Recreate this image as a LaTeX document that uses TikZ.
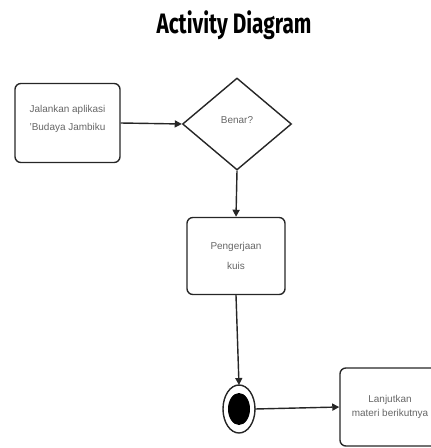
\documentclass[tikz,border=0pt]{standalone}
\usepackage{fontspec}
\setmainfont{Liberation Sans}
\newfontfamily\judulfont[FakeStretch=0.74]{Fira Sans Bold}
\usetikzlibrary{shapes.geometric,arrows.meta}

\newcommand{\naik}[2]{\raisebox{#1}[\height][\depth]{\begin{tabular}{@{}c@{}}#2\end{tabular}}}

\tikzset{
  aktivitas/.style = {draw=black!85, line width=1.2pt, rounded corners=5pt,
    align=center, text=black!60, font=\fontsize{8.5}{14}\selectfont,
    minimum width=#1, minimum height=2.37cm, inner sep=0pt},
  keputusan/.style = {draw=black!85, line width=1.2pt, diamond,
    minimum width=3.27cm, minimum height=2.76cm, inner sep=0pt,
    text=black!60, font=\fontsize{8.5}{12}\selectfont},
  alur/.style = {draw=black!85, line width=1.2pt, -{Triangle[length=6pt,width=6pt]}}
}

\begin{document}
\begin{tikzpicture}[x=0.03cm, y=-0.03cm]
\useasboundingbox (0,0) rectangle (431,448);
\clip (0,0) rectangle (431,448);

% judul
\node (judul) at (234,25) {\judulfont\fontsize{24}{26}\selectfont Activity Diagram};

% aktivitas
\node [aktivitas=3.15cm] (jalankan) at (67.5,123)
  {\naik{4pt}{Jalankan aplikasi\\[2pt]'Budaya Jambiku}};
\node [keputusan] (benar) at (237,124) {\naik{3pt}{Benar?}};
\node [aktivitas=2.94cm, minimum height=2.31cm] (kuis) at (236,256)
  {\naik{0pt}{Pengerjaan\\[3pt]kuis}};
\node [aktivitas=3.0cm, minimum height=2.34cm] (lanjut) at (390,407)
  {Lanjutkan\\[-2pt]materi berikutnya};

% akhir
\draw [black!85, line width=1.2pt] (239,409) ellipse [x radius=16, y radius=24];
\fill [black] (239,409) ellipse [x radius=11, y radius=16];
\coordinate (akhir-atas) at (239,385);
\coordinate (akhir-kanan) at (255,409);

% alur
\draw [alur] (jalankan.east) -- (benar.west);
\draw [alur] (benar.south) -- (kuis.north);
\draw [alur] (kuis.south) -- (akhir-atas);
\draw [alur] (akhir-kanan) -- (lanjut.west);
\end{tikzpicture}
\end{document}
